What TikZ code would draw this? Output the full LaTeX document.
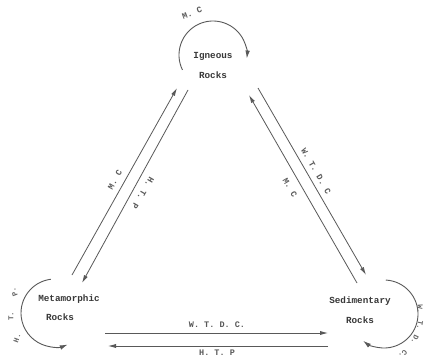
\documentclass[tikz,border=0pt]{standalone}
\usepackage{fontspec}
\setmonofont{Liberation Mono}
\usetikzlibrary{arrows.meta}
\tikzset{
  rocktext/.style={font=\ttfamily\bfseries\fontsize{9.3}{11}\selectfont, text=black!78, inner sep=0pt},
  lbl/.style={font=\ttfamily\bfseries\fontsize{8.5}{10}\selectfont, text=black!65, inner sep=0pt},
  smlbl/.style={font=\ttfamily\bfseries\fontsize{7.5}{9}\selectfont, text=black!60, inner sep=0pt},
  conn/.style={draw=black!65, line width=0.8pt, -{Latex[length=8pt,width=4.2pt]}},
  loopline/.style={draw=black!65, line width=0.9pt, -{Latex[length=8pt,width=4.6pt]}}
}
\begin{document}
\begin{tikzpicture}[x=1pt,y=1pt]
\useasboundingbox (0,0) rectangle (425,359);
\fill[white] (0,0) rectangle (425,359);

% rock nodes
\node[rocktext] (ign) at (213,303) {Igneous};
\node[rocktext] (ignb) at (213,284) {Rocks};
\node[rocktext] (met) at (69,60) {Metamorphic};
\node[rocktext] (metb) at (60,42) {Rocks};
\node[rocktext] (sed) at (360,58) {Sedimentary};
\node[rocktext] (sedb) at (360,39) {Rocks};

% connector end coordinates
\coordinate (lo1) at (72,84);   \coordinate (lo2) at (177,271);
\coordinate (li1) at (188,269); \coordinate (li2) at (82,76);
\coordinate (ro1) at (258,271); \coordinate (ro2) at (366,84);
\coordinate (ri1) at (357,76);  \coordinate (ri2) at (249,264);
\coordinate (bt1) at (105,26);  \coordinate (bt2) at (328,26);
\coordinate (bb1) at (328,13);  \coordinate (bb2) at (108,13);

\draw[conn] (lo1) -- (lo2);
\draw[conn] (li1) -- (li2);
\draw[conn] (ro1) -- (ro2);
\draw[conn] (ri1) -- (ri2);
\draw[conn] (bt1) -- (bt2);
\draw[conn] (bb1) -- (bb2);

% self loops
\coordinate (igc) at (213,304);
\coordinate (mec) at (55,46);
\coordinate (sec) at (384,45);
\draw[loopline] (igc) ++(206:34) arc[start angle=206, end angle=-6, radius=34];
\draw[loopline] (mec) ++(97:34) arc[start angle=97, end angle=292, radius=34];
\draw[loopline] (sec) ++(87:34) arc[start angle=87, end angle=-128, radius=34];

% connector labels
\node[lbl, rotate=60] (l1) at (115,179) {M. C};
\node[lbl, rotate=-120] (l2) at (143,166) {H. T. P};
\node[lbl, rotate=-60] (l3) at (316,188) {W. T. D. C};
\node[lbl, rotate=-60] (l4) at (290,171) {M. C};
\node[lbl] (l5) at (217,34) {W. T. D. C.};
\node[lbl] (l6) at (217,6) {H. T. P};

% loop labels
\node[lbl, rotate=20] (l7) at (192,346) {M. C};
\node[smlbl, rotate=70] (m1) at (17,21) {H.};
\node[smlbl, rotate=90] (m2) at (11,43) {T.};
\node[smlbl, rotate=110] (m3) at (14,67) {P.};
\node[smlbl, rotate=-95] (s1) at (420,50) {W.};
\node[smlbl, rotate=-100] (s2) at (420,34) {T.};
\node[smlbl, rotate=-115] (s3) at (415,19) {D.};
\node[smlbl, rotate=-135] (s4) at (403,5) {C.};
\end{tikzpicture}
\end{document}
